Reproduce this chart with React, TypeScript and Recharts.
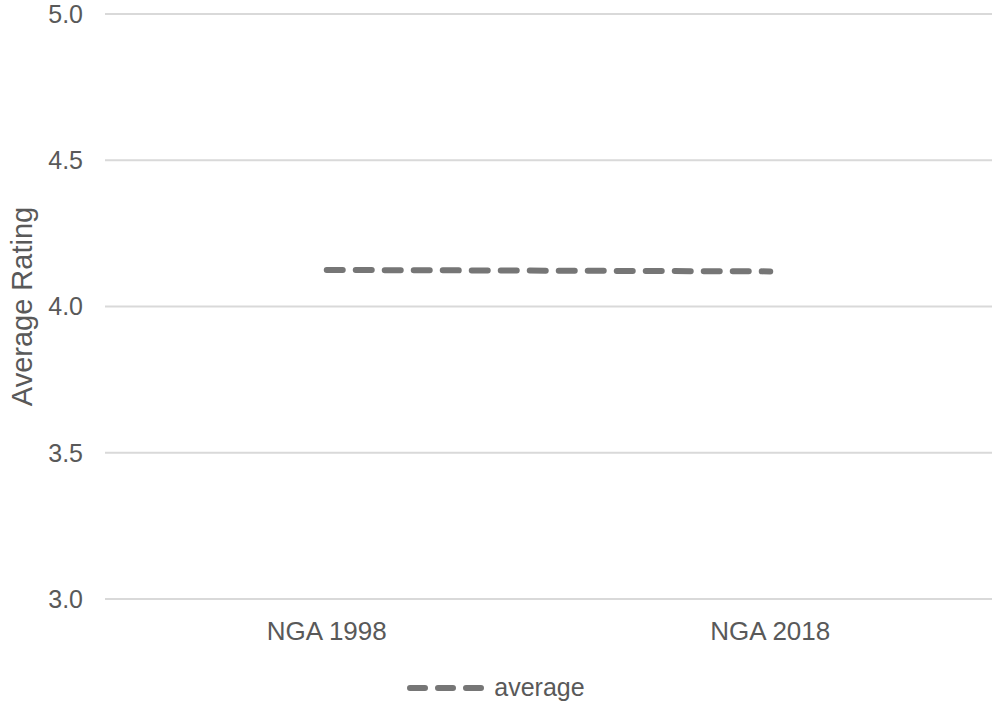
import { LineChart, Line, XAxis, YAxis, CartesianGrid, Legend } from 'recharts';

const categories = ['NGA 1998', 'NGA 2018'];
const averageValues = [4.125, 4.12];
const yTicks = [3.0, 3.5, 4.0, 4.5, 5.0];

const data = categories.map((name, i) => ({ name, average: averageValues[i] }));

const FONT = '"Liberation Sans", Arial, sans-serif';
const TEXT = '#595959';
const LINE = '#767676';

const YTitle = ({ viewBox }: any) => {
  const cx = viewBox.x + 22;
  const cy = viewBox.y + viewBox.height / 2;
  return (
    <text
      x={cx}
      y={cy}
      transform={`rotate(-90 ${cx} ${cy})`}
      textAnchor="middle"
      dominantBaseline="central"
      fill={TEXT}
      fontSize={29}
      fontFamily={FONT}
    >
      Average Rating
    </text>
  );
};

const LegendContent = () => (
  <div
    style={{
      height: 29,
      display: 'flex',
      justifyContent: 'center',
      alignItems: 'center',
      fontFamily: FONT,
      fontSize: 25,
      color: TEXT,
    }}
  >
    <svg width={77} height={10} style={{ marginRight: 10 }}>
      <line
        x1={3}
        y1={5}
        x2={74}
        y2={5}
        stroke={LINE}
        strokeWidth={6}
        strokeDasharray="15 13"
        strokeLinecap="round"
      />
    </svg>
    <span style={{ lineHeight: '29px' }}>average</span>
  </div>
);

export default function App() {
  return (
    <div style={{ position: 'absolute', top: 0, left: 0, width: 993, height: 702, background: '#fff' }}>
      <style>{'html, body { margin: 0; overflow: hidden; }'}</style>
      <LineChart width={993} height={702} data={data} margin={{ top: 14, right: 1, left: 0, bottom: 0 }}>
        <CartesianGrid vertical={false} stroke="#d9d9d9" strokeWidth={2} />
        <XAxis
          dataKey="name"
          scale="band"
          axisLine={false}
          tickLine={false}
          tickSize={0}
          tickMargin={23}
          height={74}
          tick={{ fill: TEXT, fontSize: 26, fontFamily: FONT }}
        />
        <YAxis
          domain={[3, 5]}
          ticks={yTicks}
          width={105}
          axisLine={false}
          tickLine={false}
          tickSize={0}
          tickMargin={22}
          tickFormatter={(v: number) => v.toFixed(1)}
          tick={{ fill: TEXT, fontSize: 25, fontFamily: FONT }}
          label={<YTitle />}
        />
        <Legend verticalAlign="bottom" align="center" content={<LegendContent />} />
        <Line
          type="linear"
          dataKey="average"
          stroke={LINE}
          strokeWidth={6}
          strokeDasharray="16 13"
          strokeLinecap="round"
          dot={false}
          activeDot={false}
          isAnimationActive={false}
        />
      </LineChart>
    </div>
  );
}
